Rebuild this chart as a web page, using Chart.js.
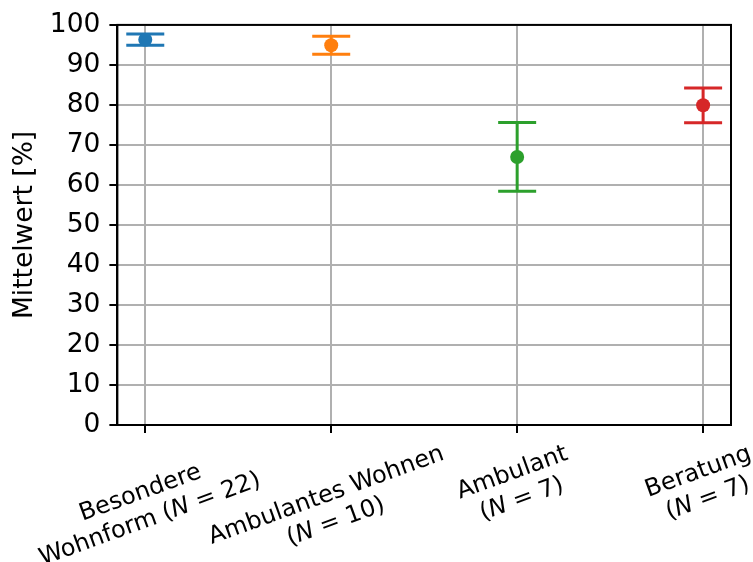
<!DOCTYPE html>
<html>
<head>
<meta charset="utf-8">
<script src="https://cdn.jsdelivr.net/npm/chart.js@4/dist/chart.umd.min.js"></script>
<style>
  html, body { margin: 0; padding: 0; background: #fff; }
  #wrap { width: 753px; height: 562px; }
</style>
</head>
<body>
<div id="wrap"><canvas id="chart" width="753" height="562"></canvas></div>
<script>
const categories = [
  ['Besondere', 'Wohnform (N = 22)'],
  ['Ambulantes Wohnen', '(N = 10)'],
  ['Ambulant', '(N = 7)'],
  ['Beratung', '(N = 7)']
];
const means = [96.3, 94.9, 67.0, 79.9];
const errors = [1.4, 2.25, 8.6, 4.35];
const colors = ['#1f77b4', '#ff7f0e', '#2ca02c', '#d62728'];
const yTicks = [0, 10, 20, 30, 40, 50, 60, 70, 80, 90, 100];

const FONT = 'DejaVu Sans';
const FS = 24;      // category labels
const FS_Y = 26.5;  // y ticks + title

// error bars under the markers, drawn through the chart scales
const errorBarPlugin = {
  id: 'errorBars',
  beforeDatasetsDraw(chart) {
    const { ctx, scales: { x, y } } = chart;
    ctx.save();
    ctx.lineWidth = 3;
    means.forEach((m, i) => {
      const px = x.getPixelForValue(i);
      const top = y.getPixelForValue(m + errors[i]);
      const bot = y.getPixelForValue(m - errors[i]);
      ctx.strokeStyle = colors[i];
      ctx.beginPath();
      ctx.moveTo(px, top); ctx.lineTo(px, bot);
      ctx.moveTo(px - 19, top); ctx.lineTo(px + 19, top);
      ctx.moveTo(px - 19, bot); ctx.lineTo(px + 19, bot);
      ctx.stroke();
    });
    ctx.restore();
  }
};

// frame + rotated category labels (matplotlib style, centered, italic N)
const frameLabelPlugin = {
  id: 'frameLabels',
  afterDraw(chart) {
    const { ctx, chartArea: a, scales: { x } } = chart;
    ctx.save();
    ctx.strokeStyle = '#000';
    ctx.lineWidth = 2;
    ctx.strokeRect(a.left, a.top, a.right - a.left, a.bottom - a.top);

    const angle = 20 * Math.PI / 180;
    const lh = FS * 1.17;
    const top = a.bottom + 8 + 7;
    ctx.fillStyle = '#000';
    ctx.textBaseline = 'middle';
    categories.forEach((lines, i) => {
      const widths = lines.map(measureLine.bind(null, ctx));
      const W = Math.max(...widths);
      const H = lines.length * lh;
      const halfH = (W * Math.sin(angle) + H * Math.cos(angle)) / 2;
      const cx = x.getPixelForValue(i);
      ctx.save();
      ctx.translate(cx, top + halfH);
      ctx.rotate(-angle);
      lines.forEach((line, j) => {
        drawLine(ctx, line, -widths[j] / 2, -H / 2 + lh * (j + 0.5));
      });
      ctx.restore();
    });
    ctx.restore();
  }
};

function splitLine(line) {
  const k = line.indexOf('(N');
  if (k < 0) return [{ t: line, it: false }];
  return [
    { t: line.slice(0, k + 1), it: false },
    { t: 'N', it: true },
    { t: line.slice(k + 2), it: false }
  ];
}

function setFont(ctx, italic) {
  ctx.font = (italic ? 'oblique ' : '') + FS + 'px "' + FONT + '"';
}

function measureLine(ctx, line) {
  return splitLine(line).reduce((w, s) => {
    setFont(ctx, s.it);
    return w + ctx.measureText(s.t).width;
  }, 0);
}

function drawLine(ctx, line, x0, y0) {
  ctx.textAlign = 'left';
  let px = x0;
  splitLine(line).forEach((s) => {
    setFont(ctx, s.it);
    ctx.fillText(s.t, px, y0);
    px += ctx.measureText(s.t).width;
  });
}

const datasets = means.map((m, i) => ({
  data: [{ x: i, y: m }],
  backgroundColor: colors[i],
  borderWidth: 0,
  pointRadius: 7,
  pointHoverRadius: 7
}));

new Chart(document.getElementById('chart'), {
  type: 'scatter',
  data: { datasets },
  plugins: [errorBarPlugin, frameLabelPlugin],
  options: {
    responsive: false,
    animation: false,
    events: [],
    layout: { padding: { left: 5, right: 22, top: 8.5, bottom: 129 } },
    plugins: { legend: { display: false }, tooltip: { enabled: false } },
    scales: {
      x: {
        type: 'linear',
        min: -0.15,
        max: 3.15,
        afterBuildTicks: (scale) => { scale.ticks = categories.map((c, i) => ({ value: i })); },
        ticks: { display: false },
        grid: { color: '#b0b0b0', lineWidth: 2, tickColor: '#000', tickWidth: 2, tickLength: 8 },
        border: { color: '#000', width: 2 }
      },
      y: {
        min: 0,
        max: 100,
        afterBuildTicks: (scale) => { scale.ticks = yTicks.map((v) => ({ value: v })); },
        ticks: { color: '#000', padding: 9, font: { family: FONT, size: FS_Y } },
        grid: { color: '#b0b0b0', lineWidth: 2, tickColor: '#000', tickWidth: 2, tickLength: 8 },
        border: { color: '#000', width: 2 },
        title: {
          display: true, text: 'Mittelwert [%]', color: '#000',
          padding: { top: 4, bottom: 0 },
          font: { family: FONT, size: FS_Y }
        }
      }
    }
  }
});
</script>
</body>
</html>
